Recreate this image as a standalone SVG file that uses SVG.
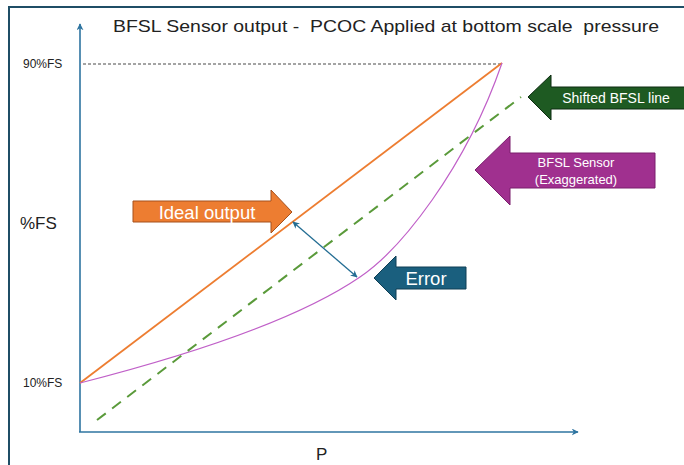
<svg xmlns="http://www.w3.org/2000/svg" width="684" height="465" viewBox="0 0 684 465">
<defs>
<style>
text{font-family:"Liberation Sans",Arial,sans-serif;white-space:pre;}
.lbl{font-size:12px;fill:#222;}
.ax{stroke:#2e74a0;stroke-width:1.6;fill:none;}
.blk{fill:#ffffff;text-anchor:middle;}
</style>
<marker id="ah" viewBox="0 0 10 10" refX="9" refY="5" markerWidth="7" markerHeight="7" orient="auto" markerUnits="userSpaceOnUse">
<path d="M0,0 L10,5 L0,10 L3,5 Z" fill="#2e74a0"/>
</marker>
<marker id="eh" viewBox="0 0 10 10" refX="9" refY="5" markerWidth="7" markerHeight="7" orient="auto-start-reverse" markerUnits="userSpaceOnUse">
<path d="M0,0 L10,5 L0,10 L3,5 Z" fill="#236d93"/>
</marker>
</defs>
<rect x="0" y="0" width="684" height="465" fill="#ffffff"/>
<rect x="9" y="7" width="700" height="480" fill="none" stroke="#1f4e66" stroke-width="2"/>
<text x="113" y="32" font-size="17" fill="#222" textLength="546" lengthAdjust="spacingAndGlyphs" xml:space="preserve">BFSL Sensor output -  PCOC Applied at bottom scale  pressure</text>
<g id="axes">
<line class="ax" x1="80" y1="432" x2="80" y2="24" marker-end="url(#ah)"/>
<line class="ax" x1="79" y1="432" x2="578" y2="432" marker-end="url(#ah)"/>
<text class="lbl" x="23" y="68">90%FS</text>
<text class="lbl" x="23" y="387">10%FS</text>
<text x="20" y="229" font-size="17" fill="#222">%FS</text>
<text x="316" y="460" font-size="17" fill="#222">P</text>
</g>
<g id="connectors">
<line x1="83" y1="64" x2="502" y2="64" stroke="#333" stroke-width="0.9" stroke-dasharray="3,2"/>
<line x1="80" y1="383" x2="502" y2="63" stroke="#ed7d31" stroke-width="1.8"/>
<path d="M80,383 C170,360 290,325 360,277 C400,250 465,170 502,63" fill="none" stroke="#c060c8" stroke-width="1.2"/>
<line x1="97" y1="420" x2="521" y2="97" stroke="#5a9a3a" stroke-width="2" stroke-dasharray="11,8"/>
<line x1="293" y1="222" x2="357" y2="277" stroke="#236d93" stroke-width="1.3" marker-start="url(#eh)" marker-end="url(#eh)"/>
</g>
<g id="ideal">
<path d="M133,201 L271,201 L271,190 L292,212 L271,233 L271,222 L133,222 Z" fill="#ed7d31" stroke="#a5501c" stroke-width="1"/>
<text class="blk" x="207" y="218.5" font-size="18.5">Ideal output</text>
</g>
<g id="error">
<path d="M374,278 L396,256 L396,267 L466,267 L466,289 L396,289 L396,300 Z" fill="#1a5f7e" stroke="#0f3f55" stroke-width="1"/>
<text class="blk" x="426" y="284.5" font-size="18.5">Error</text>
</g>
<g id="shifted">
<path d="M528,97 L551,75 L551,87 L690,87 L690,109 L551,109 L551,120 Z" fill="#1e5a22" stroke="#0c2a10" stroke-width="1"/>
<text class="blk" x="616" y="103" font-size="14">Shifted BFSL line</text>
</g>
<g id="sensor">
<path d="M475,170 L510,136 L510,153 L655,153 L655,188 L510,188 L510,205 Z" fill="#a0308f" stroke="#7a1f6c" stroke-width="1"/>
<text class="blk" x="576" y="167" font-size="13">BFSL Sensor</text>
<text class="blk" x="576" y="184" font-size="13">(Exaggerated)</text>
</g>
</svg>
